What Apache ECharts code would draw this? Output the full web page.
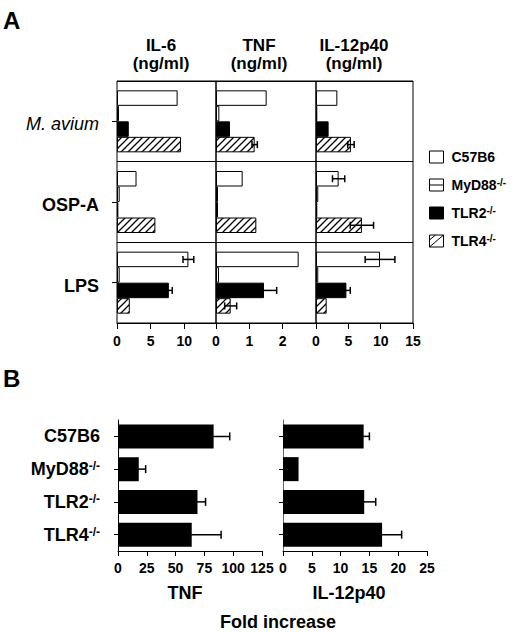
<!DOCTYPE html>
<html>
<head>
<meta charset="utf-8">
<script src="https://cdn.jsdelivr.net/npm/echarts@6/dist/echarts.min.js"></script>
<style>
  html, body { margin: 0; padding: 0; background: #fff; }
  #chart { width: 520px; height: 632px; }
</style>
</head>
<body>
<div id="chart"></div>
<script>
// categories
const stimuli = ['M. avium', 'OSP-A', 'LPS'];
const strains = ['C57B6', 'MyD88-/-', 'TLR2-/-', 'TLR4-/-'];
const headersA = ['IL-6', 'TNF', 'IL-12p40'];

// panel A (ng/ml): one row per strain, one column per stimulus
const il6 = [[9.0, 2.9, 10.6], [0.3, 0.4, 0.4], [1.75, 0.2, 7.7], [9.5, 5.7, 1.9]];
const il6Err = [[0, 0, 0.8], [0, 0, 0], [0, 0, 0.5], [0, 0, 0]];
const tnf = [[1.52, 0.8, 2.48], [0.1, 0.06, 0.09], [0.42, 0.06, 1.44], [1.16, 1.21, 0.44]];
const tnfErr = [[0, 0, 0], [0, 0, 0], [0, 0, 0.38], [0.08, 0, 0.18]];
const il12 = [[3.3, 3.5, 9.9], [0.2, 0.35, 0.35], [1.95, 0.2, 4.7], [5.4, 7.1, 1.65]];
const il12Err = [[0, 0.95, 2.3], [0, 0, 0], [0, 0, 0.6], [0.5, 1.8, 0]];

// panel A axes (tick labels 0,5,10 / 0,1,2 / 0,5,10,15)
const axisMaxA = [14.7, 3, 15];
const axisStepA = [5, 1, 5];

// panel B (fold increase), one value per strain
const foldTnf = [83, 18, 69, 64];
const foldTnfErr = [14, 6, 7, 25.5];
const foldIl12 = [14.0, 2.7, 14.1, 17.2];
const foldIl12Err = [1.0, 0, 2.0, 3.4];
const axisMaxB = [125, 25];
const axisStepB = [25, 5];

const FONT = '"Liberation Sans", Arial, sans-serif';
const BAR_A = 15.5;
const BAR_B = 24;

function hatch() {
  const c = document.createElement('canvas');
  c.width = c.height = 7;
  const g = c.getContext('2d');
  g.fillStyle = '#fff';
  g.fillRect(0, 0, 7, 7);
  g.strokeStyle = '#000';
  g.lineWidth = 1.3;
  g.beginPath();
  g.moveTo(-1, 8); g.lineTo(8, -1);
  g.moveTo(-1, 1); g.lineTo(1, -1);
  g.moveTo(6, 8); g.lineTo(8, 6);
  g.stroke();
  return c;
}

const barStyles = [
  { color: '#fff', borderColor: '#000', borderWidth: 1 },
  { color: '#fff', borderColor: '#000', borderWidth: 1 },
  { color: '#000', borderColor: '#000', borderWidth: 1 },
  { color: { image: hatch(), repeat: 'repeat' }, borderColor: '#000', borderWidth: 1 }
];

// "-/-" as superscript
function sup(name, cls) {
  const i = name.indexOf('-/-');
  if (i < 0) return '{' + cls + '|' + name + '}';
  return '{' + cls + '|' + name.slice(0, i) + '}{' + cls + 's|-/-}';
}

// error bar drawn next to bar k of n in a category band
function errorBar(barW, n, cap) {
  return function (params, api) {
    const v = api.value(0), e = api.value(1), cat = api.value(2), k = api.value(3);
    const lo = api.coord([v - e, cat]);
    const hi = api.coord([v + e, cat]);
    const y = lo[1] + (k - (n - 1) / 2) * barW;
    const st = { stroke: '#000', lineWidth: 1.5 };
    return {
      type: 'group',
      children: [
        { type: 'line', shape: { x1: lo[0], y1: y, x2: hi[0], y2: y }, style: st },
        { type: 'line', shape: { x1: lo[0], y1: y - cap, x2: lo[0], y2: y + cap }, style: st },
        { type: 'line', shape: { x1: hi[0], y1: y - cap, x2: hi[0], y2: y + cap }, style: st }
      ]
    };
  };
}

const colsA = [
  { vals: il6, errs: il6Err },
  { vals: tnf, errs: tnfErr },
  { vals: il12, errs: il12Err }
];
const leftA = [117, 216, 316];
const widthA = [99, 100, 97];

const grid = [], xAxis = [], yAxis = [], series = [];

colsA.forEach(function (col, c) {
  grid.push({
    left: leftA[c], top: 81, width: widthA[c], height: 242,
    show: true, borderColor: '#000', borderWidth: 1, backgroundColor: 'transparent'
  });
  xAxis.push({
    gridIndex: c, type: 'value', min: 0, max: axisMaxA[c], interval: axisStepA[c],
    axisLine: { show: true, lineStyle: { color: '#000', width: 1 } },
    axisTick: { show: true, length: 6, lineStyle: { color: '#000' } },
    axisLabel: {
      color: '#000', fontFamily: FONT, fontWeight: 'bold', fontSize: 14, margin: 11,
      showMaxLabel: c === 2, showMinLabel: true
    },
    splitLine: { show: false }
  });
  yAxis.push({
    gridIndex: c, type: 'category', data: stimuli, inverse: true,
    axisLine: { show: false },
    axisTick: { show: c === 0, alignWithLabel: true, length: 5, lineStyle: { color: '#000' } },
    axisLabel: {
      show: c === 0, margin: 18, padding: [6, 0, 0, 0],
      formatter: function (v) { return v === 'M. avium' ? '{it|' + v + '}' : '{b|' + v + '}'; },
      rich: {
        it: { fontFamily: FONT, fontStyle: 'italic', fontSize: 18, color: '#000' },
        b: { fontFamily: FONT, fontWeight: 'bold', fontSize: 18, color: '#000' }
      }
    },
    splitLine: { show: true, lineStyle: { color: '#000', width: 1 } }
  });
  strains.forEach(function (s, k) {
    series.push({
      type: 'bar', name: s, xAxisIndex: c, yAxisIndex: c,
      barWidth: BAR_A, barGap: '0%',
      itemStyle: barStyles[k], data: col.vals[k], silent: true
    });
  });
  const pts = [];
  col.errs.forEach(function (row, k) {
    row.forEach(function (e, i) {
      if (e > 0) pts.push([col.vals[k][i], e, i, k]);
    });
  });
  series.push({
    type: 'custom', name: 'errA' + c, xAxisIndex: c, yAxisIndex: c,
    renderItem: errorBar(BAR_A, 4, 3.5), encode: { x: 0, y: 2 },
    data: pts, z: 5, silent: true
  });
});

const colsB = [
  { vals: foldTnf, errs: foldTnfErr },
  { vals: foldIl12, errs: foldIl12Err }
];
const leftB = [118, 283];

colsB.forEach(function (col, j) {
  const g = 3 + j;
  grid.push({ left: leftB[j], top: 420, width: 144, height: 131 });
  xAxis.push({
    gridIndex: g, type: 'value', min: 0, max: axisMaxB[j], interval: axisStepB[j],
    axisLine: { show: true, lineStyle: { color: '#000', width: 1 } },
    axisTick: { show: true, length: 5, lineStyle: { color: '#000' } },
    axisLabel: { color: '#000', fontFamily: FONT, fontWeight: 'bold', fontSize: 14, margin: 10 },
    splitLine: { show: false }
  });
  yAxis.push({
    gridIndex: g, type: 'category', data: strains, inverse: true,
    axisLine: { show: true, lineStyle: { color: j === 0 ? '#000' : '#666', width: 1 } },
    axisTick: { show: true, alignWithLabel: true, length: 4, lineStyle: { color: '#000' } },
    axisLabel: {
      show: j === 0, margin: 18,
      formatter: function (v) { return sup(v, 'y'); },
      rich: {
        y: { fontFamily: FONT, fontWeight: 'bold', fontSize: 18, color: '#000' },
        ys: { fontFamily: FONT, fontWeight: 'bold', fontSize: 12, color: '#000', verticalAlign: 'top' }
      }
    },
    splitLine: { show: false }
  });
  series.push({
    type: 'bar', name: 'fold' + j, xAxisIndex: g, yAxisIndex: g,
    barWidth: BAR_B, itemStyle: { color: '#000' }, data: col.vals, silent: true
  });
  const pts = [];
  col.errs.forEach(function (e, i) {
    if (e > 0) pts.push([col.vals[i], e, i, 0]);
  });
  series.push({
    type: 'custom', name: 'errB' + j, xAxisIndex: g, yAxisIndex: g,
    renderItem: errorBar(BAR_B, 1, 4), encode: { x: 0, y: 2 },
    data: pts, z: 5, silent: true
  });
});

function label(text, x, y, size) {
  return {
    type: 'text', x: x, y: y,
    style: {
      text: text, fill: '#000', textAlign: 'center', verticalAlign: 'middle',
      font: 'bold ' + size + 'px ' + FONT
    }
  };
}

const headerX = [161, 259, 354];
const graphic = [
  { type: 'text', x: 3, y: 8, style: { text: 'A', fill: '#000', font: 'bold 24px ' + FONT } },
  { type: 'text', x: 3, y: 366, style: { text: 'B', fill: '#000', font: 'bold 24px ' + FONT } },
  label('TNF', 185, 593, 18),
  label('IL-12p40', 349, 593, 18),
  label('Fold increase', 278, 622, 18)
];
headersA.forEach(function (h, c) {
  graphic.push(label(h, headerX[c], 45, 17));
  graphic.push(label('(ng/ml)', headerX[c], 63, 17));
});

const chart = echarts.init(document.getElementById('chart'), null, { renderer: 'svg' });
chart.setOption({
  backgroundColor: '#fff',
  animation: false,
  legend: {
    orient: 'vertical', left: 424, top: 145,
    itemWidth: 14, itemHeight: 12, itemGap: 13,
    selectedMode: false,
    data: [
      { name: strains[0], icon: 'rect', itemStyle: { color: '#fff', borderColor: '#000', borderWidth: 1 } },
      { name: strains[1], icon: 'path://M0,0H14V12H0Z M0,6H14', itemStyle: { color: '#fff', borderColor: '#000', borderWidth: 1 } },
      { name: strains[2], icon: 'rect', itemStyle: { color: '#000', borderColor: '#000', borderWidth: 1 } },
      { name: strains[3], icon: 'path://M0,0H14V12H0Z M0,12L14,0 M0,5L6,0', itemStyle: { color: '#fff', borderColor: '#000', borderWidth: 1 } }
    ],
    formatter: function (name) { return sup(name, 'n'); },
    textStyle: {
      padding: [0, 0, 0, 3],
      rich: {
        n: { fontFamily: FONT, fontWeight: 'bold', fontSize: 14, color: '#000', lineHeight: 16 },
        ns: { fontFamily: FONT, fontWeight: 'bold', fontSize: 10, color: '#000', verticalAlign: 'top', lineHeight: 16 }
      }
    }
  },
  grid: grid,
  xAxis: xAxis,
  yAxis: yAxis,
  series: series,
  graphic: graphic
});
</script>
</body>
</html>
